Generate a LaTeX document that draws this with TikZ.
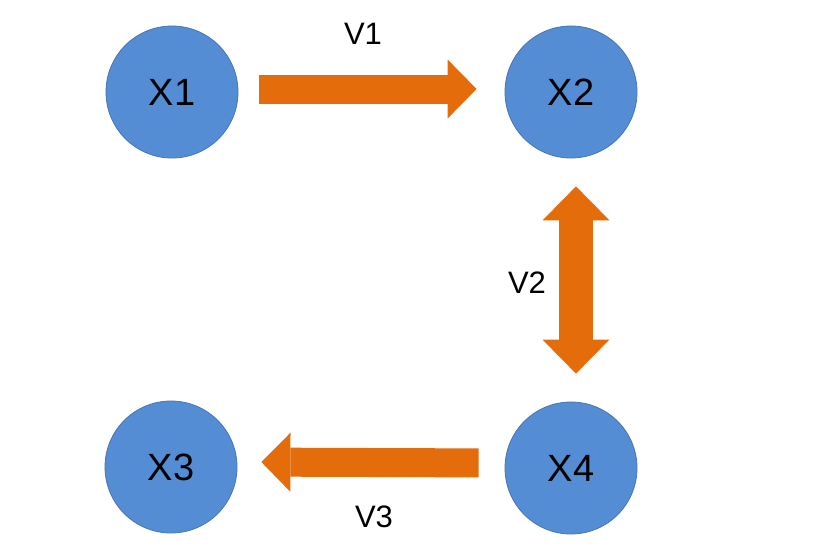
\documentclass[tikz,border=0pt]{standalone}
\usepackage{fontspec}
\setmainfont{Liberation Sans}
\usepackage{xcolor}
\usepackage{tikz}
\usetikzlibrary{arrows.meta, positioning}

\definecolor{stateblue}{RGB}{84,141,212}
\definecolor{stateedge}{RGB}{70,118,180}
\definecolor{floworange}{RGB}{228,108,10}

\begin{document}
\begin{tikzpicture}[x=0.5pt, y=-0.5pt,
    state/.style={circle, draw=stateedge, line width=0.4pt, fill=stateblue, minimum size=66pt, inner sep=0pt, font=\fontsize{19}{22}\selectfont},
    flow/.style={draw=floworange, line width=14.5pt,
        -{Triangle[length=14.5pt, width=29.5pt, line width=0pt]}},
    flowlabel/.style={inner sep=0pt, font=\fontsize{15.5}{18}\selectfont}]
        \useasboundingbox[fill=white] (0,0) rectangle (840,547);

        % States
        \node[state] (x1) at (172, 92) {X1};
        \node[state] (x2) at (571, 92) {X2};
        \node[state] (x3) at (171, 467) {X3};
        \node[state] (x4) at (571, 468) {X4};

        % Flows
        \draw[flow, shorten <=10.5pt, shorten >=14pt] ([yshift=1.5pt]x1.east) -- ([yshift=1.5pt]x2.west);
        \draw[flow, line width=17pt, {Triangle[length=17pt, width=33.5pt, line width=0pt]}-{Triangle[length=17pt, width=33.5pt, line width=0pt]}, shorten <=14pt, shorten >=14pt] ([xshift=2.5pt]x2.south) -- ([xshift=2.5pt]x4.north);
        \draw[flow, shorten <=13pt, shorten >=12pt] ([yshift=2.5pt]x4.west) -- ([yshift=2.5pt]x3.east);

        % Labels
        \node[flowlabel] (v1) at (363, 34) {V1};
        \node[flowlabel] (v2) at (527, 283) {V2};
        \node[flowlabel] (v3) at (374, 517) {V3};
    \end{tikzpicture}
\end{document}
